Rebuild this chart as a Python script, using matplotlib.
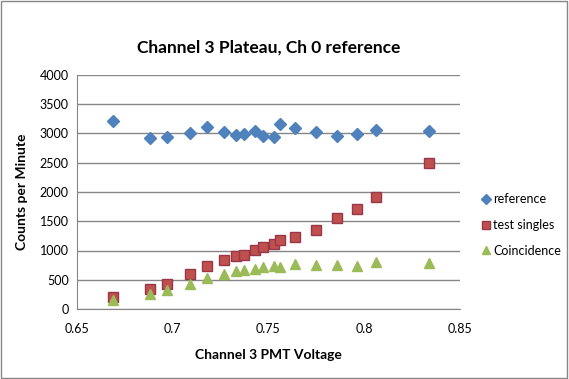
import matplotlib
matplotlib.use('Agg')
import matplotlib.pyplot as plt

plt.rcParams['font.family'] = ['Lato', 'DejaVu Sans']

# PMT voltage readings
voltage = [0.669, 0.688, 0.697, 0.709, 0.718, 0.727, 0.733, 0.737, 0.743,
           0.747, 0.753, 0.756, 0.764, 0.775, 0.786, 0.796, 0.806, 0.834]
# counts per minute
reference = [3210, 2920, 2935, 3010, 3105, 3020, 2970, 2985, 3040,
             2950, 2935, 3160, 3095, 3020, 2950, 2990, 3060, 3040]
test_singles = [200, 337, 422, 593, 730, 838, 900, 923, 1005,
                1060, 1111, 1179, 1231, 1350, 1550, 1704, 1915, 2490]
coincidence = [150, 250, 325, 435, 535, 605, 645, 660, 680,
               715, 730, 715, 765, 745, 745, 730, 800, 785]

fig = plt.figure(figsize=(5.69, 3.79), dpi=100)
ax = fig.add_axes([77/569, 1-309/379, (460-77)/569, (309-75)/379])

ax.plot(voltage, reference, linestyle='none', marker='D', markersize=6,
        color='#4F81BD', markeredgecolor='#4F81BD', label='reference')
ax.plot(voltage, test_singles, linestyle='none', marker='s', markersize=6.5,
        color='#C0504D', markeredgecolor='#98374A', markeredgewidth=1, label='test singles')
ax.plot(voltage, coincidence, linestyle='none', marker='^', markersize=7,
        color='#9BBB59', markeredgecolor='#9BBB59', label='Coincidence')

ax.set_xlim(0.65, 0.85)
ax.set_ylim(0, 4000)
ax.set_xticks([0.65, 0.7, 0.75, 0.8, 0.85])
ax.set_xticklabels(['0.65', '0.7', '0.75', '0.8', '0.85'])
ax.set_yticks(range(0, 4001, 500))
ax.yaxis.grid(True, color='#868686', linewidth=1)
ax.set_axisbelow(True)
for s in ['top', 'right']:
    ax.spines[s].set_visible(False)
for s in ['left', 'bottom']:
    ax.spines[s].set_color('#868686')
ax.tick_params(axis='both', labelsize=9, length=0)
ax.tick_params(axis='x', pad=10)
ax.tick_params(axis='y', pad=6)

ax.set_title('Channel 3 Plateau, Ch 0 reference', fontsize=12.5, fontweight='bold', pad=16)
ax.set_xlabel('Channel 3 PMT Voltage', fontsize=10, fontweight='bold', labelpad=10)
ax.set_ylabel('Counts per Minute', fontsize=10, fontweight='bold', labelpad=8)

fig.legend(loc='center left', bbox_to_anchor=(472/569, 1-225/379), frameon=False,
           fontsize=9, handlelength=0.5, handletextpad=0.3, labelspacing=1.1,
           markerscale=0.85)

# outer border like the spreadsheet chart
fig.add_artist(plt.Rectangle((0.002, 0.003), 0.995, 0.994, transform=fig.transFigure,
                             fill=False, edgecolor='#868686', linewidth=1))

fig.savefig('out.png', dpi=100)
